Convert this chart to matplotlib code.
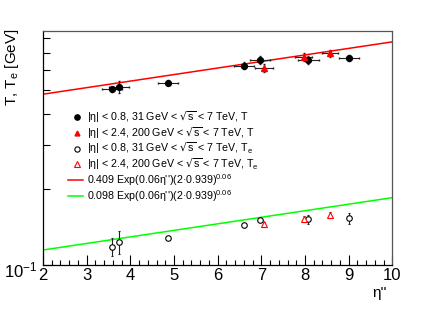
import numpy as np
import matplotlib
matplotlib.use("Agg")
import matplotlib.pyplot as plt
from matplotlib.transforms import ScaledTranslation

plt.rcParams['font.family'] = ['Liberation Sans', 'DejaVu Sans']
plt.rcParams['mathtext.default'] = 'regular'

# T, |eta|<0.8, 31 GeV < sqrt(s) < 7 TeV
eta_a = [3.59, 3.74, 4.87, 6.61, 6.97, 8.08, 9.01]
T_a = [0.501, 0.512, 0.533, 0.622, 0.654, 0.656, 0.670]
T_a_err = [0.012, 0.028, 0.014, 0.020, 0.024, 0.024, 0.018]
eta_a_err = [0.23, 0.23, 0.23, 0.23, 0.23, 0.23, 0.22]

# T, |eta|<2.4, 200 GeV < sqrt(s) < 7 TeV
eta_b = [7.06, 7.97, 8.57]
T_b = [0.608, 0.672, 0.697]
T_b_err = [0.022, 0.025, 0.022]
eta_b_err = [0.20, 0.20, 0.19]

# Te, |eta|<0.8
Te_a = [0.1183, 0.1238, 0.1285, 0.1443, 0.1507, 0.1521, 0.1535]
Te_a_err = [0.010, 0.013, 0.002, 0.002, 0.003, 0.006, 0.0075]

# Te, |eta|<2.4
Te_b = [0.1452, 0.1521, 0.1582]
Te_b_err = [0.003, 0.004, 0.004]

# fit parameters from legend
A_T, A_Te, slope, mass = 0.409, 0.098, 0.06, 0.939

labels = [r"|η| < 0.8, 31 GeV < $\sqrt{s}$ < 7 TeV, T",
          r"|η| < 2.4, 200 GeV < $\sqrt{s}$ < 7 TeV, T",
          r"|η| < 0.8, 31 GeV < $\sqrt{s}$ < 7 TeV, T$_e$",
          r"|η| < 2.4, 200 GeV < $\sqrt{s}$ < 7 TeV, T$_e$",
          r"0.409 Exp(0.06η'')(2·0.939)$^{0.06}$",
          r"0.098 Exp(0.06η'')(2·0.939)$^{0.06}$"]

W, H = 436, 314
fig = plt.figure(figsize=(W/100, H/100), dpi=100)
x0, x1, y0, y1 = 43, 392.3, 31, 265
ax = fig.add_axes([x0/W, 1-y1/H, (x1-x0)/W, (y1-y0)/H])

xx = np.linspace(2, 10, 200)
corr = (2*mass)**slope
ax.plot(xx, A_T*np.exp(slope*xx)*corr, color='#ff0000', lw=1.1, zorder=2)
ax.plot(xx, A_Te*np.exp(slope*xx)*corr, color='#00ff00', lw=1.1, zorder=2)

ecol = '#222222'
ax.errorbar(eta_a, T_a, yerr=T_a_err, xerr=eta_a_err, fmt='o', color='black',
            ms=4.2, ecolor=ecol, elinewidth=0.8, capsize=1, zorder=3)
ax.errorbar(eta_b, T_b, yerr=T_b_err, xerr=eta_b_err, fmt='^', color='#ff0000',
            ms=3.8, ecolor=ecol, elinewidth=0.8, capsize=1, zorder=3)
ax.errorbar(eta_a, Te_a, yerr=Te_a_err, fmt='o', mfc='white', mec='black',
            mew=0.8, ms=4, ecolor=ecol, elinewidth=0.8, capsize=1, zorder=3)
ax.errorbar(eta_b, Te_b, yerr=Te_b_err, fmt='^', mfc='white', mec='#ff0000',
            mew=0.8, ms=4, ecolor=ecol, elinewidth=0.8, capsize=1, zorder=3)

ax.set_yscale('log')
ax.set_xlim(2, 10)
ax.set_ylim(0.1, 0.855)

ax.set_xticks(range(2, 11))
ax.set_xticklabels([str(i) for i in range(2, 11)])
ax.set_xticks(np.arange(2, 10.01, 0.2), minor=True)
ax.set_yticks([0.1])
ax.set_yticklabels([r"$10^{-1}$"])
ax.set_yticks([0.2, 0.3, 0.4, 0.5, 0.6, 0.7, 0.8], minor=True)
ax.yaxis.set_minor_formatter(matplotlib.ticker.NullFormatter())
ax.tick_params(axis='both', which='both', direction='in', top=False, right=False)
ax.tick_params(axis='x', which='major', length=7, width=0.8, labelsize=12, pad=2)
ax.tick_params(axis='x', which='minor', length=3.5, width=0.8)
ax.tick_params(axis='y', which='major', length=7, width=0.8, labelsize=12, pad=3)
ax.tick_params(axis='y', which='minor', length=5, width=0.8)
shift = ScaledTranslation(-1/72, -2.5/72, fig.dpi_scale_trans)
for lab in ax.get_yticklabels():
    lab.set_transform(lab.get_transform() + shift)
for s in ['top', 'right']:
    ax.spines[s].set_color('#555555')
    ax.spines[s].set_linewidth(0.9)
for s in ['left', 'bottom']:
    ax.spines[s].set_linewidth(0.9)

fig.text(12/W, 1-28/H, r"T, T$_e$ [GeV]", rotation=90, ha='center', va='top', fontsize=11)
fig.text(380/W, 1-293/H, "η''", ha='center', va='center', fontsize=11)

# manual legend (axes-fraction coordinates derived from pixel layout)
def fx(px):
    return (px - x0) / (x1 - x0)

def fy(py):
    return (y1 - py) / (y1 - y0)

styles = [
    dict(marker='o', ls='none', color='black', ms=3.8),
    dict(marker='^', ls='none', color='#ff0000', ms=3.5),
    dict(marker='o', ls='none', mfc='white', mec='black', mew=0.8, ms=3.8),
    dict(marker='^', ls='none', mfc='white', mec='#ff0000', mew=0.8, ms=3.8),
    dict(color='#ff0000', lw=1.1),
    dict(color='#00ff00', lw=1.1),
]
for i, (lab, st) in enumerate(zip(labels, styles)):
    yy = fy(117 + 15.8 * i)
    if st.get('ls') == 'none':
        ax.plot([fx(77)], [yy], transform=ax.transAxes, clip_on=False, **st)
    else:
        ax.plot([fx(68), fx(83)], [yy, yy], transform=ax.transAxes, clip_on=False, **st)
    ax.text(fx(87), yy, lab, transform=ax.transAxes, ha='left', va='center', fontsize=7.7)

fig.savefig('out.png', dpi=100)
